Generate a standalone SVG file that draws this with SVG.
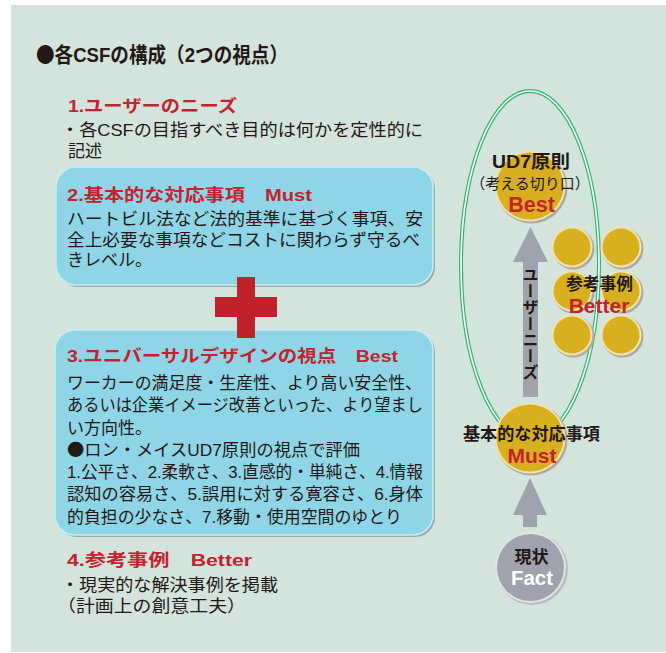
<svg xmlns="http://www.w3.org/2000/svg" width="666" height="653" viewBox="0 0 666 653">
<style>
.jp{font-family:"Liberation Sans","Noto Sans CJK JP","Noto Sans CJK SC",sans-serif;fill:#231815}
.cjk{font-family:"Noto Sans CJK JP",sans-serif}
.body{font-size:17px}
.hd{font-family:"Liberation Sans","Noto Sans CJK JP",sans-serif;font-weight:bold;font-size:17px;fill:#c4222c}
.bold{font-weight:bold}
.red{fill:#c4222c}
.lat{font-family:"Liberation Sans","Noto Sans CJK JP",sans-serif;font-weight:bold}
.box{fill:#8fd5e8;stroke:#c8edf4;stroke-width:1.5}
.boxsh{fill:#9ea8aa}
.gold{fill:#d8b01f}
.rim{fill:#efe3b2}
.sh{fill:#aeaa9c}
.arrow{fill:#9ea3ad}
</style>
<rect x="0" y="0" width="666" height="653" fill="#ffffff"/>
<rect x="11" y="5" width="655" height="647" fill="#d3e4dc"/>

<g id="title">
<text class="jp bold" x="36" y="62" font-size="21" textLength="252" lengthAdjust="spacingAndGlyphs"><tspan class="cjk">●</tspan>各CSFの構成（2つの視点）</text>
</g>

<g id="needs">
<text class="hd" x="68" y="112" textLength="169" lengthAdjust="spacingAndGlyphs">1.ユーザーのニーズ</text>
<text class="jp body" x="61" y="136" textLength="362" lengthAdjust="spacingAndGlyphs">・各CSFの目指すべき目的は何かを定性的に</text>
<text class="jp body" x="68" y="157">記述</text>
</g>

<g id="must-box">
<rect class="boxsh" x="58" y="169" width="377" height="118" rx="20"/>
<rect class="box" x="56" y="167" width="377" height="118" rx="20"/>
<text class="hd" x="67" y="201" textLength="245" lengthAdjust="spacingAndGlyphs">2.基本的な対応事項　Must</text>
<text class="jp body" x="67" y="225" textLength="356" lengthAdjust="spacingAndGlyphs">ハートビル法など法的基準に基づく事項、安</text>
<text class="jp body" x="67" y="245.5" textLength="353" lengthAdjust="spacingAndGlyphs">全上必要な事項などコストに関わらず守るべ</text>
<text class="jp body" x="67" y="266">きレベル。</text>
</g>

<g id="best-box">
<rect class="boxsh" x="57" y="332" width="378" height="205" rx="20"/>
<rect class="box" x="55" y="330" width="378" height="205" rx="20"/>
<text class="hd" x="67" y="362" textLength="331" lengthAdjust="spacingAndGlyphs">3.ユニバーサルデザインの視点　Best</text>
<text class="jp body" x="67" y="389" textLength="355" lengthAdjust="spacingAndGlyphs">ワーカーの満足度・生産性、より高い安全性、</text>
<text class="jp body" x="67" y="411" textLength="356" lengthAdjust="spacingAndGlyphs">あるいは企業イメージ改善といった、より望まし</text>
<text class="jp body" x="67" y="434">い方向性。</text>
<text class="jp body" x="67" y="456" textLength="293" lengthAdjust="spacingAndGlyphs"><tspan class="cjk">●</tspan>ロン・メイスUD7原則の視点で評価</text>
<text class="jp body" x="67" y="478" textLength="356" lengthAdjust="spacingAndGlyphs">1.公平さ、2.柔軟さ、3.直感的・単純さ、4.情報</text>
<text class="jp body" x="67" y="500" textLength="356" lengthAdjust="spacingAndGlyphs">認知の容易さ、5.誤用に対する寛容さ、6.身体</text>
<text class="jp body" x="67" y="523" textLength="335" lengthAdjust="spacingAndGlyphs">的負担の少なさ、7.移動・使用空間のゆとり</text>
</g>

<g id="plus">
<rect x="237" y="277" width="18" height="61" fill="#c0222c"/>
<rect x="215" y="297" width="62" height="20" fill="#c0222c"/>
</g>

<g id="better-text">
<text class="hd" x="67" y="566" textLength="185" lengthAdjust="spacingAndGlyphs">4.参考事例　Better</text>
<text class="jp body" x="61" y="591" textLength="217" lengthAdjust="spacingAndGlyphs">・現実的な解決事例を掲載</text>
<text class="jp body" x="57" y="612" textLength="189" lengthAdjust="spacingAndGlyphs">（計画上の創意工夫）</text>
</g>

<g id="connectors">
<ellipse cx="530" cy="265" rx="69" ry="174" fill="none" stroke="#2fb56a" stroke-width="4"/>
<ellipse cx="530" cy="265" rx="69" ry="174" fill="none" stroke="#ffffff" stroke-width="1.6"/>
<polygon class="arrow" points="530.5,227 548,262 538,262 538,397 523,397 523,262 513,262"/>
<polygon class="arrow" points="530,478 547,515 537,515 537,527 523,527 523,515 513,515"/>
<text x="530.5" y="267" font-size="16" font-weight="bold" fill="#231815" style="font-family:'Noto Sans CJK JP',sans-serif;writing-mode:vertical-rl" textLength="113" lengthAdjust="spacingAndGlyphs">ユーザーニーズ</text>
</g>

<g id="best-node">
<circle class="sh" cx="531.5" cy="187.5" r="36"/>
<circle class="rim" cx="530" cy="186" r="35.5"/>
<circle class="gold" cx="530" cy="186" r="33.5"/>
<text class="jp bold" x="531" y="168" font-size="18" text-anchor="middle" textLength="78" lengthAdjust="spacingAndGlyphs">UD7原則</text>
<text class="jp" x="530" y="189" font-size="15" text-anchor="middle">（考える切り口）</text>
<text class="lat red" x="531.5" y="212" font-size="21.5" text-anchor="middle">Best</text>
</g>

<g id="better-nodes">
<circle class="sh" cx="573.5" cy="248.5" r="21"/><circle class="rim" cx="572" cy="247" r="20.5"/><circle class="gold" cx="572" cy="247" r="18.5"/>
<circle class="sh" cx="622.5" cy="248.5" r="21"/><circle class="rim" cx="621" cy="247" r="20.5"/><circle class="gold" cx="621" cy="247" r="18.5"/>
<circle class="sh" cx="573.5" cy="292.5" r="21"/><circle class="rim" cx="572" cy="291" r="20.5"/><circle class="gold" cx="572" cy="291" r="18.5"/>
<circle class="sh" cx="622.5" cy="292.5" r="21"/><circle class="rim" cx="621" cy="291" r="20.5"/><circle class="gold" cx="621" cy="291" r="18.5"/>
<circle class="sh" cx="573.5" cy="336.5" r="21"/><circle class="rim" cx="572" cy="335" r="20.5"/><circle class="gold" cx="572" cy="335" r="18.5"/>
<circle class="sh" cx="622.5" cy="336.5" r="21"/><circle class="rim" cx="621" cy="335" r="20.5"/><circle class="gold" cx="621" cy="335" r="18.5"/>
<text class="jp bold" x="599.5" y="290" font-size="17" text-anchor="middle" textLength="67" lengthAdjust="spacingAndGlyphs">参考事例</text>
<text class="lat red" x="599" y="313" font-size="21" text-anchor="middle">Better</text>
</g>

<g id="must-node">
<circle class="sh" cx="531.5" cy="439.5" r="36"/>
<circle class="rim" cx="530" cy="438" r="35.5"/>
<circle class="gold" cx="530" cy="438" r="33.5"/>
<text class="jp bold" x="531.5" y="440" font-size="17" text-anchor="middle" textLength="137" lengthAdjust="spacingAndGlyphs">基本的な対応事項</text>
<text class="lat red" x="532" y="463" font-size="21" text-anchor="middle">Must</text>
</g>

<g id="fact-node">
<circle cx="532" cy="569" r="36" fill="#b8bcc2"/>
<circle cx="530.5" cy="567.5" r="35.5" fill="#e2e4e6"/>
<circle cx="530.5" cy="567.5" r="33.5" fill="#9ea3ad"/>
<text class="jp bold" x="531.5" y="562.5" font-size="17" text-anchor="middle">現状</text>
<text class="lat" x="532" y="585" font-size="20.5" text-anchor="middle" fill="#ffffff">Fact</text>
</g>
</svg>
